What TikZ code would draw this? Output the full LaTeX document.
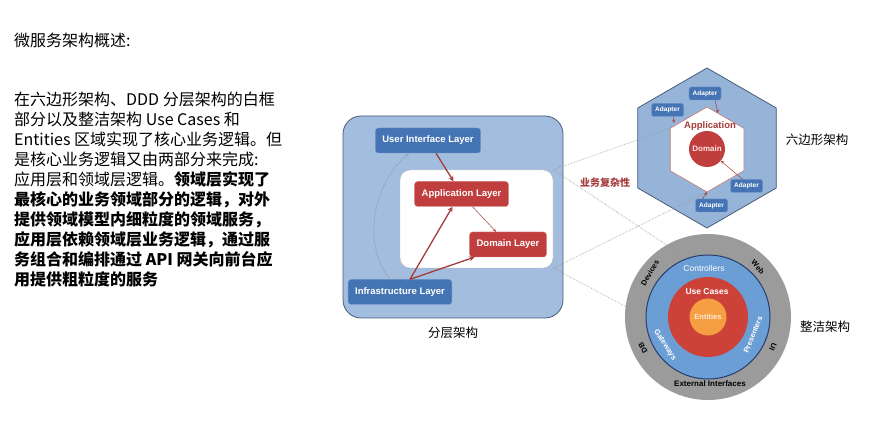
\documentclass[tikz,border=0pt]{standalone}
\usepackage{fontspec}
\setmainfont{Liberation Sans}
\newfontfamily\cjk{Noto Sans CJK SC}
\usetikzlibrary{positioning}

\definecolor{capafondo}{RGB}{163,189,222}
\definecolor{capaborde}{RGB}{72,92,122}
\definecolor{azulcaja}{RGB}{68,116,180}
\definecolor{rojocaja}{RGB}{192,62,62}
\definecolor{flecha}{RGB}{165,60,60}
\definecolor{hexfondo}{RGB}{150,180,216}
\definecolor{gris}{RGB}{155,155,155}
\definecolor{azulanillo}{RGB}{108,158,214}
\definecolor{marino}{RGB}{40,60,110}
\definecolor{rojoanillo}{RGB}{205,66,56}
\definecolor{naranja}{RGB}{245,158,66}

\begin{document}
\begin{tikzpicture}[x=1pt, y=-1pt, >=stealth,
    capa/.style={draw=azulcaja!75!white, fill=azulcaja, rounded corners=3pt, text=white,
        font=\bfseries\fontsize{9.5}{11}\selectfont, inner xsep=7pt, minimum height=25pt},
    caparoja/.style={capa, draw=rojocaja!75!white, fill=rojocaja},
    adaptador/.style={draw=azulcaja!75!white, fill=azulcaja, rounded corners=1.5pt, text=white,
        font=\bfseries\fontsize{6.5}{7}\selectfont, minimum width=32pt, minimum height=13pt, inner sep=1pt},
    gruesa/.style={->, draw=flecha, line width=1.3pt},
    fina/.style={->, draw=flecha, line width=0.5pt},
    punteada/.style={draw=gray!80, densely dotted, line width=0.6pt},
    titulo/.style={font=\cjk\fontsize{12.5}{14}\selectfont},
    anillo/.style={inner sep=0pt, font=\bfseries\fontsize{7.5}{9}\selectfont}]

    \useasboundingbox (0,0) rectangle (889,435);

    % Texto de la izquierda
    \node[anchor=north west, inner sep=0pt, font=\cjk\fontsize{16}{20}\selectfont] (resumen) at (14,33) {微服务架构概述:};
    \node[anchor=north west, inner sep=0pt, align=left, font=\cjk\fontsize{16}{20}\selectfont] (texto) at (14,92)
        {在六边形架构、DDD 分层架构的白框\\
         部分以及整洁架构 Use Cases 和\\
         Entities 区域实现了核心业务逻辑。但\\
         是核心业务逻辑又由两部分来完成:\\
         应用层和领域层逻辑。\textbf{领域层实现了}\\
         \textbf{最核心的业务领域部分的逻辑，对外}\\
         \textbf{提供领域模型内细粒度的领域服务，}\\
         \textbf{应用层依赖领域层业务逻辑，通过服}\\
         \textbf{务组合和编排通过 API 网关向前台应}\\
         \textbf{用提供粗粒度的服务}};

    % Arquitectura en capas
    \node[draw=capaborde, fill=capafondo, line width=0.8pt, rounded corners=18pt,
        minimum width=220pt, minimum height=202pt] (capas) at (453,217) {};
    \node[draw=gray!55, fill=white, rounded corners=10pt,
        minimum width=153pt, minimum height=98pt] (nucleo) at (476.5,219) {};
    \node[capa] (ui) at (428,140.5) {User Interface Layer};
    \node[caparoja] (app) at (461.5,194) {Application Layer};
    \node[caparoja] (dom) at (508,244.5) {Domain Layer};
    \node[capa] (infra) at (400,292) {Infrastructure Layer};
    \node[titulo, below=5pt of capas] (capastit) {分层架构};

    \draw[gruesa] ([xshift=8pt]ui.south) -- ([xshift=-8pt]app.north);
    \draw[fina] ([xshift=11pt]app.south) -- ([xshift=-12pt]dom.north);
    \draw[gruesa] ([xshift=10pt]infra.north) -- ([xshift=-9pt]app.south);
    \draw[gruesa] ([xshift=10pt]infra.north) -- ([xshift=5pt]dom.south west);
    \draw[->, draw=capaborde!55, line width=0.6pt] ([xshift=-10pt]infra.north)
        .. controls (362,245) and (372,185) .. ([xshift=-19pt]ui.south);

    % Arquitectura hexagonal
    \coordinate (hexc) at (707,148);
    \coordinate (hexi) at (707,149.5);
    \draw[draw=capaborde, fill=hexfondo, line width=0.8pt] (hexc) +(90:80) -- +(30:80) -- +(-30:80)
        -- +(-90:80) -- +(-150:80) -- +(150:80) -- cycle;
    \draw[draw=flecha!70, fill=white, line width=0.6pt] (hexi) +(90:42.5) -- +(30:42.5) -- +(-30:42.5)
        -- +(-90:42.5) -- +(-150:42.5) -- +(150:42.5) -- cycle;
    \path (hexi) +(210:42.5) coordinate (hexsi) +(90:42.5) coordinate (hexinf);
    \coordinate (hexsd) at (718,113);
    \coordinate (hexizq) at (674,123);
    \node[circle, fill=rojocaja, minimum size=36pt, inner sep=0pt, text=white!90!red,
        font=\bfseries\fontsize{8}{9}\selectfont] (domc) at (707,149) {Domain};
    \node[text=flecha, font=\bfseries\fontsize{9.5}{11}\selectfont] (apptxt) at (710,126) {Application};
    \node[adaptador] (ad1) at (705,93.5) {Adapter};
    \node[adaptador] (ad2) at (667.5,110) {Adapter};
    \node[adaptador] (ad3) at (746.5,186) {Adapter};
    \node[adaptador] (ad4) at (711.5,205.5) {Adapter};
    \draw[fina] ([xshift=10pt]ad1.south) -- (hexsd);
    \draw[fina] ([xshift=6pt]ad2.south) -- (hexizq);
    \draw[fina] ([xshift=-4pt]ad3.north) -- (domc);
    \draw[fina] ([xshift=-9pt]ad4.north) -- (hexinf);
    \node[titulo] (hextit) at (817,140) {六边形架构};

    % Arquitectura limpia
    \node[circle, fill=gris, minimum size=166pt, inner sep=0pt] (ext) at (708,317) {};
    \node[circle, fill=azulanillo, draw=marino, line width=1pt, minimum size=124pt, inner sep=0pt] (ctrl) at (708,317) {};
    \node[circle, fill=rojoanillo, minimum size=80pt, inner sep=0pt] (uc) at (708,317) {};
    \node[circle, fill=naranja, minimum size=37pt, inner sep=0pt, text=white!85!orange,
        font=\bfseries\fontsize{7.5}{9}\selectfont] (ent) at (708,317) {Entities};
    \node[inner sep=1pt, text=white, font=\fontsize{8.5}{10}\selectfont] (ctrltxt) at (704,268) {Controllers};
    \node[inner sep=1pt, text=white, font=\bfseries\fontsize{8.5}{10}\selectfont] (uctxt) at (707,292) {Use Cases};
    \node[inner sep=1pt, font=\bfseries\fontsize{8}{9}\selectfont] (exttxt) at (710,384) {External Interfaces};
    \node[anillo, rotate=60] (devtxt) at (650,273) {Devices};
    \node[anillo, rotate=-48] (webtxt) at (758,267) {Web};
    \node[anillo, rotate=120] (dbtxt) at (643,348) {DB};
    \node[anillo, rotate=-115] (uitxt) at (773,347) {UI};
    \node[anillo, text=white, rotate=-57] (gwtxt) at (665,345) {Gateways};
    \node[anillo, text=white, rotate=68] (prtxt) at (753,335) {Presenters};
    \node[titulo] (limptit) at (825,327) {整洁架构};

    % Lineas punteadas de complejidad
    \draw[punteada] (nucleo.north east) -- (hexsi);
    \draw[punteada] (nucleo.north east) -- (ctrl.110);
    \draw[punteada] (nucleo.south east) -- (hexinf);
    \draw[punteada] (nucleo.south east) -- (ctrl.west);
    \node[text=flecha, font=\cjk\bfseries\fontsize{10}{12}\selectfont] (complejidad) at (605,183) {业务复杂性};

\end{tikzpicture}
\end{document}
